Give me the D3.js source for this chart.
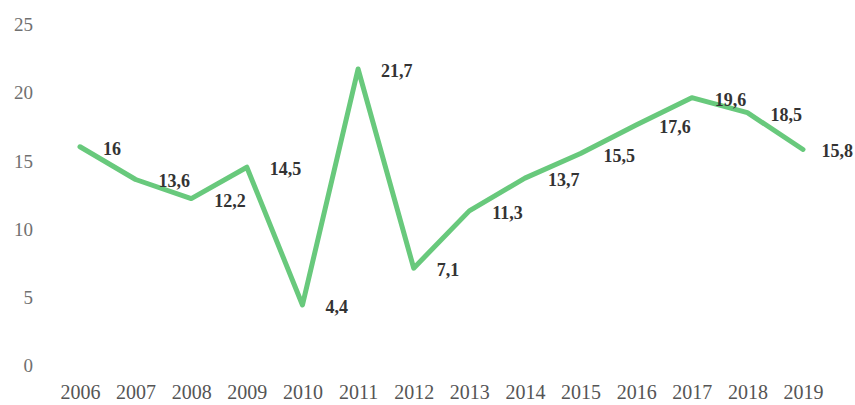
<!DOCTYPE html>
<html>
<head>
<meta charset="utf-8">
<script src="https://cdn.jsdelivr.net/npm/d3@7"></script>
<style>
  html, body { margin: 0; padding: 0; background: #fff; }
  svg { display: block; }
</style>
</head>
<body>
<svg id="chart" width="855" height="405"></svg>
<script>
// Yearly series
const years = [2006, 2007, 2008, 2009, 2010, 2011, 2012, 2013, 2014, 2015, 2016, 2017, 2018, 2019];
const values = [16, 13.6, 12.2, 14.5, 4.4, 21.7, 7.1, 11.3, 13.7, 15.5, 17.6, 19.6, 18.5, 15.8];
const yTicks = [0, 5, 10, 15, 20, 25];

const W = 855;
const svg = d3.select("#chart");

const x = d3.scalePoint().domain(years).range([80, 803]);
const y = d3.scaleLinear().domain([0, 25]).range([365, 24]);

const fmt = v => String(v).replace(".", ",");

// Y axis labels (no line, no ticks)
const yAxis = d3.axisLeft(y).tickValues(yTicks).tickSize(0).tickPadding(0);
svg.append("g")
  .attr("transform", "translate(33,0)")
  .call(yAxis)
  .call(g => g.select(".domain").remove())
  .call(g => g.selectAll("text")
    .attr("font-family", "'Liberation Serif', 'Times New Roman', serif")
    .attr("font-size", 19)
    .attr("fill", "#707070")
    .attr("dy", "0.35em"));

// X axis labels
const xAxis = d3.axisBottom(x).tickSize(0).tickPadding(0);
svg.append("g")
  .attr("transform", "translate(0,385)")
  .call(xAxis)
  .call(g => g.select(".domain").remove())
  .call(g => g.selectAll("text")
    .attr("font-family", "'Liberation Serif', 'Times New Roman', serif")
    .attr("font-size", 20)
    .attr("fill", "#555")
    .attr("dy", "0.71em"));

const data = years.map((yr, i) => ({ year: yr, value: values[i] }));

// Series line
const line = d3.line().x(d => x(d.year)).y(d => y(d.value));
svg.append("path")
  .datum(data)
  .attr("d", line)
  .attr("fill", "none")
  .attr("stroke", "#68c97c")
  .attr("stroke-width", 5)
  .attr("stroke-linejoin", "round")
  .attr("stroke-linecap", "round");

// Value labels, kept inside the right edge
svg.append("g")
  .selectAll("text")
  .data(data)
  .join("text")
  .attr("x", d => x(d.year) + 23)
  .attr("y", d => y(d.value) + 8)
  .attr("font-family", "'Liberation Serif', 'Times New Roman', serif")
  .attr("font-weight", "bold")
  .attr("font-size", 18)
  .attr("fill", "#333")
  .text(d => fmt(d.value))
  .each(function (d) {
    const len = this.getComputedTextLength();
    const x0 = x(d.year) + 23;
    if (x0 + len > W - 2) d3.select(this).attr("x", W - 2 - len);
  });
</script>
</body>
</html>
